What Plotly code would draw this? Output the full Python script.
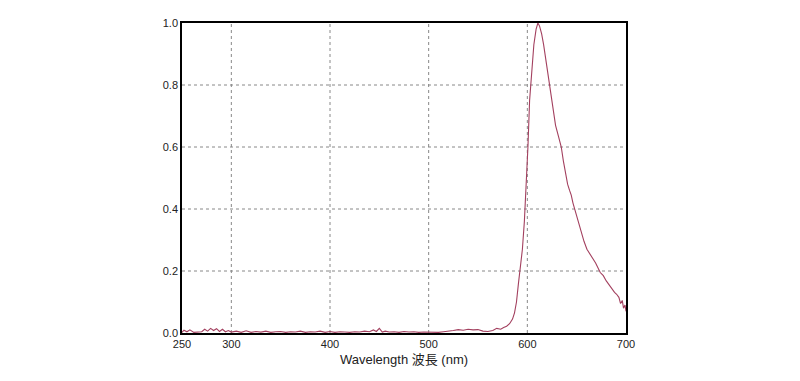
import plotly.graph_objects as go

# Baseline region (nm) and normalized intensity
base_nm = [250, 252, 255, 258, 262, 266, 270, 273, 276, 279, 282, 285, 288, 291, 294, 297,
           300, 305, 310, 315, 320, 325, 330, 335, 340, 345, 350, 355, 360, 365, 370, 375,
           380, 385, 390, 395, 400, 405, 410, 415, 420, 425, 430, 435, 440, 444, 447, 450,
           453, 456, 460, 465, 470, 475, 480, 485, 490, 495, 500, 505, 510, 515, 520, 525,
           530, 535, 540, 545, 550, 555]
base_val = [0.002, 0.009, 0.004, 0.010, 0.002, 0.003, 0.004, 0.012, 0.006, 0.015, 0.008, 0.014,
            0.005, 0.012, 0.004, 0.008, 0.003, 0.006, 0.002, 0.007, 0.002, 0.005, 0.003, 0.006,
            0.002, 0.004, 0.005, 0.002, 0.004, 0.003, 0.006, 0.002, 0.004, 0.003, 0.006, 0.002,
            0.005, 0.002, 0.004, 0.003, 0.002, 0.004, 0.003, 0.006, 0.004, 0.010, 0.005, 0.015,
            0.003, 0.006, 0.003, 0.004, 0.002, 0.005, 0.003, 0.004, 0.002, 0.003, 0.002, 0.003,
            0.002, 0.004, 0.005, 0.008, 0.011, 0.009, 0.012, 0.010, 0.011, 0.006]

# Emission band (nm) and normalized intensity
band_nm = [560, 565, 569, 573, 576, 579, 582, 585, 587, 589, 591, 593, 595, 597, 599, 600.6,
           602.3, 603.3, 605, 606.6, 608.9, 610.7, 612.4, 614.5, 616.5, 619.5, 622.5, 625.5,
           628.6, 631.5, 634.4, 636.5, 638.8, 640.8, 642.8, 644.5, 646.2, 647.9, 651, 654.7,
           657.5, 660.4, 664.5, 669.2, 673.9, 677, 680, 684, 688.4, 690.5, 692.8, 694.5,
           696.2, 697.5, 699, 700]
band_val = [0.005, 0.008, 0.015, 0.012, 0.018, 0.022, 0.030, 0.045, 0.065, 0.10, 0.16, 0.21,
            0.27, 0.36, 0.48, 0.60, 0.75, 0.80, 0.87, 0.93, 0.98, 1.0, 0.99, 0.965, 0.93,
            0.865, 0.80, 0.735, 0.67, 0.635, 0.60, 0.555, 0.51, 0.48, 0.46, 0.445, 0.42, 0.40,
            0.365, 0.327, 0.295, 0.27, 0.25, 0.226, 0.195, 0.185, 0.168, 0.15, 0.131, 0.125,
            0.115, 0.095, 0.105, 0.08, 0.09, 0.07]

x = base_nm + band_nm
y = base_val + band_val

x_ticks = [250, 300, 400, 500, 600, 700]
y_ticks = [0.0, 0.2, 0.4, 0.6, 0.8, 1.0]

fig = go.Figure()
fig.add_trace(go.Scatter(x=x, y=y, mode="lines",
                         line=dict(color="#a3405f", width=1.1), showlegend=False))

axis_font = dict(family="Liberation Sans, Arial, sans-serif", size=11, color="#222")
fig.update_xaxes(range=[250, 700], tickvals=x_ticks, ticktext=[str(t) for t in x_ticks],
                 showgrid=False, zeroline=False,
                 showline=True, linecolor="black", linewidth=1.5, mirror=True,
                 ticks="", tickfont=axis_font,
                 title=dict(text="Wavelength 波長 (nm)",
                            font=dict(family="Liberation Sans, Noto Sans CJK JP, sans-serif",
                                      size=13, color="#222"), standoff=6))
fig.update_yaxes(range=[0, 1.0], tickvals=y_ticks, ticktext=[f"{t:.1f}" for t in y_ticks],
                 showgrid=False, zeroline=False,
                 showline=True, linecolor="black", linewidth=1.5, mirror=True,
                 ticks="", tickfont=axis_font)

# dashed grid lines at the major ticks
for gx in [300, 400, 500, 600]:
    fig.add_shape(type="line", xref="x", yref="paper", x0=gx, x1=gx, y0=0, y1=1,
                  line=dict(color="#888", width=1, dash="dot"), layer="below")
for gy in [0.2, 0.4, 0.6, 0.8]:
    fig.add_shape(type="line", xref="paper", yref="y", x0=0, x1=1, y0=gy, y1=gy,
                  line=dict(color="#888", width=1, dash="dot"), layer="below")

fig.update_layout(width=800, height=381,
                  margin=dict(l=174, r=182, t=9, b=56),
                  paper_bgcolor="white", plot_bgcolor="white")

fig.write_html("out.html")
